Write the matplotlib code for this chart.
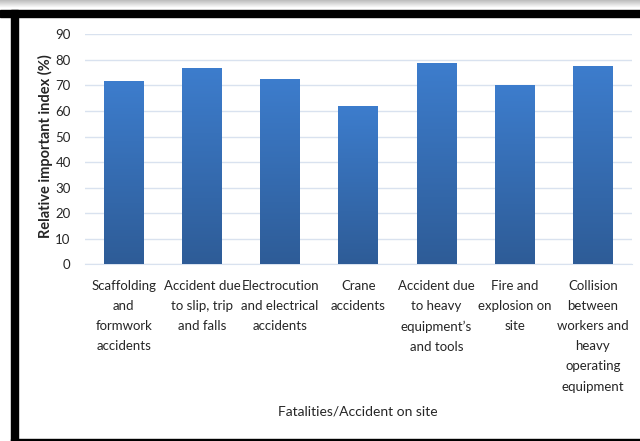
import numpy as np
import matplotlib.pyplot as plt
from matplotlib import font_manager
from matplotlib.colors import LinearSegmentedColormap
from matplotlib.patches import Rectangle

# ------------------------------------------------------------
# DATA
# ------------------------------------------------------------
categories = [
    "Scaffolding\nand\nformwork\naccidents",
    "Accident due\nto slip, trip\nand falls",
    "Electrocution\nand electrical\naccidents",
    "Crane\naccidents",
    "Accident due\nto heavy\nequipment\u2019s\nand tools",
    "Fire and\nexplosion on\nsite",
    "Collision\nbetween\nworkers and\nheavy\noperating\nequipment",
]
rii_values = [71.8, 76.7, 72.4, 62.1, 78.9, 70.2, 77.7]
y_ticks = [0, 10, 20, 30, 40, 50, 60, 70, 80, 90]

# ------------------------------------------------------------
# STYLE
# ------------------------------------------------------------
W, H = 640, 441
installed = {f.name for f in font_manager.fontManager.ttflist}
FONT = next((f for f in ["Liberation Sans Narrow", "Lato", "Open Sans"] if f in installed), "DejaVu Sans")
plt.rcParams['font.family'] = [FONT, 'DejaVu Sans']

TEXT_COLOR = '#262626'
GRID_COLOR = '#d9e2ef'
bar_cmap = LinearSegmentedColormap.from_list('bar', ['#2e5c97', '#3d7dcd'])


def px(x0, y0, x1, y1):
    # pixel box (top-left origin) -> figure fraction rect
    return [x0 / W, 1 - y1 / H, (x1 - x0) / W, (y1 - y0) / H]


fig = plt.figure(figsize=(W / 100, H / 100), dpi=100)
fig.patch.set_facecolor('white')

# frame: top shadow, thick black top/left borders, thin bottom border
shadow = fig.add_axes(px(0, 0, W, 8))
shadow.imshow(np.linspace(0, 1, 20).reshape(-1, 1), cmap=LinearSegmentedColormap.from_list('s', ['#bdbdbd', '#ffffff']),
              aspect='auto', extent=[0, 1, 0, 1])
shadow.axis('off')
fig.patches.append(Rectangle((0, 1 - 17 / H), 1, 7 / H, transform=fig.transFigure, color='black', zorder=5))
fig.patches.append(Rectangle((11 / W, 0), 6.5 / W, 1 - 10 / H, transform=fig.transFigure, color='black', zorder=5))
fig.patches.append(Rectangle((11 / W, 0), 1, 2 / H, transform=fig.transFigure, color='black', zorder=5))

# ------------------------------------------------------------
# CHART
# ------------------------------------------------------------
ax = fig.add_axes(px(84.6, 34.3, 632, 264.3))
x = np.arange(len(categories))
bars = ax.bar(x, rii_values, width=0.51, color='#3670b6', zorder=2)

# vertical gradient fill on each bar
grad = np.linspace(1, 0, 256).reshape(-1, 1)
for b in bars:
    img = ax.imshow(grad, cmap=bar_cmap, aspect='auto', zorder=3,
                    extent=[b.get_x(), b.get_x() + b.get_width(), 0, b.get_height()])
    img.set_clip_path(b)

ax.set_xlim(-0.5, len(categories) - 0.5)
ax.set_ylim(0, 90)
ax.set_yticks(y_ticks)
ax.set_xticks(x)
ax.set_xticklabels(categories, fontsize=9.5, color=TEXT_COLOR, linespacing=1.82, va='top')
ax.tick_params(axis='x', length=0, pad=11)
ax.tick_params(axis='y', length=0, pad=10, labelsize=9.5, labelcolor=TEXT_COLOR)

ax.grid(True, axis='y', color=GRID_COLOR, linewidth=1, zorder=0)
ax.set_axisbelow(True)
for side in ['top', 'right', 'left']:
    ax.spines[side].set_visible(False)
ax.spines['bottom'].set_color(GRID_COLOR)

fig.text(45 / W, 1 - 146 / H, 'Relative important index (%)', rotation=90, ha='center', va='center',
         fontsize=10.5, fontweight='bold', color=TEXT_COLOR)
fig.text(358 / W, 1 - 411 / H, 'Fatalities/Accident on site', ha='center', va='center',
         fontsize=10, color=TEXT_COLOR)

fig.savefig('out.png', dpi=100)
